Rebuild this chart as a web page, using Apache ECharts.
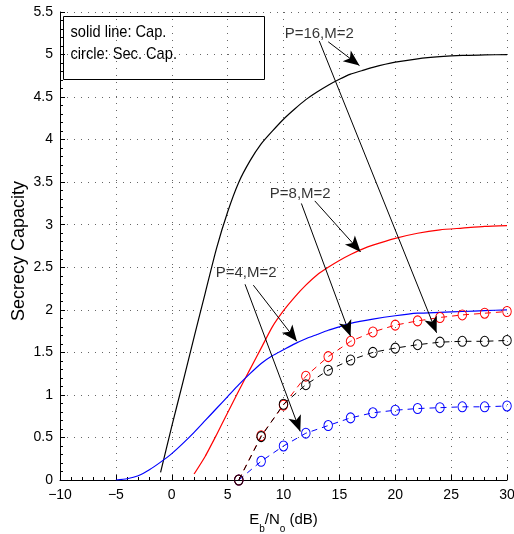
<!DOCTYPE html>
<html>
<head>
<meta charset="utf-8">
<script src="https://cdn.jsdelivr.net/npm/echarts@6/dist/echarts.min.js"></script>
<style>
  html, body { margin: 0; padding: 0; background: #fff; }
  #chart { width: 514px; height: 534px; }
</style>
</head>
<body>
<div id="chart"></div>
<script>
// Capacity curves (solid lines), x in dB
const xCapP4 = [-5, -4, -3, -2, -1, 0, 1, 2, 3, 4, 5, 6, 7, 8, 9, 10, 11, 12, 13, 14, 15, 16, 18, 20, 22, 24, 26, 28, 30];
const capP4 = [0, 0.015, 0.05, 0.12, 0.21, 0.31, 0.43, 0.56, 0.7, 0.84, 0.98, 1.12, 1.25, 1.37, 1.46, 1.53, 1.6, 1.66, 1.71, 1.76, 1.8, 1.84, 1.89, 1.93, 1.96, 1.97, 1.98, 1.99, 2.0];

const xCapP8 = [2, 3, 4, 5, 6, 7, 8, 9, 10, 11, 12, 13, 14, 15, 16, 17, 18, 20, 22, 24, 26, 28, 30];
const capP8 = [0.07, 0.28, 0.53, 0.79, 1.05, 1.3, 1.55, 1.8, 1.99, 2.15, 2.29, 2.41, 2.5, 2.58, 2.65, 2.71, 2.76, 2.84, 2.9, 2.94, 2.96, 2.98, 2.99];

const xCapP16 = [-1, 0, 1, 2, 3, 4, 5, 6, 7, 8, 9, 10, 11, 12, 13, 14, 15, 16, 17, 18, 20, 22, 24, 26, 28, 30];
const capP16 = [0.09, 0.63, 1.15, 1.68, 2.2, 2.72, 3.15, 3.5, 3.75, 3.95, 4.1, 4.24, 4.36, 4.47, 4.56, 4.64, 4.71, 4.77, 4.81, 4.85, 4.91, 4.95, 4.975, 4.99, 4.995, 5.0];

// Secrecy capacity (circles), x in dB
const xSec = [6, 8, 10, 12, 14, 16, 18, 20, 22, 24, 26, 28, 30];
const secP4 = [0, 0.22, 0.4, 0.55, 0.64, 0.73, 0.79, 0.82, 0.84, 0.85, 0.86, 0.86, 0.87];
const secP8 = [0, 0.52, 0.88, 1.22, 1.45, 1.63, 1.74, 1.82, 1.87, 1.91, 1.94, 1.96, 1.98];
const secP16 = [0, 0.51, 0.89, 1.12, 1.29, 1.41, 1.5, 1.55, 1.59, 1.62, 1.63, 1.63, 1.64];

// Curve annotations and their arrows (data coordinates)
const noteNames = ['P=16,M=2', 'P=8,M=2', 'P=4,M=2'];
const noteX = [13.2, 11.5, 6.65];
const noteY = [5.24, 3.36, 2.43];
const arrowFrom = [[14.0, 5.15], [13.2, 5.16], [12.8, 3.28], [11.6, 3.25], [7.3, 2.29], [6.56, 2.3]];
const arrowTo = [[16.8, 4.87], [23.7, 1.73], [16.9, 2.68], [16.0, 1.69], [11.2, 1.63], [11.5, 0.57]];

const FONT = '"Liberation Sans", Arial, Helvetica, sans-serif';

const pair = (xs, ys) => xs.map((x, i) => [x, ys[i]]);

function capSeries(name, xs, ys, color) {
  return {
    name, type: 'line', data: pair(xs, ys),
    symbol: 'none', smooth: 0.2,
    lineStyle: { color, width: 1.2 },
    silent: true, z: 2
  };
}

function secSeries(name, ys, color) {
  return {
    name, type: 'line', data: pair(xSec, ys),
    symbol: 'circle', symbolSize: [8.5, 10], showAllSymbol: true,
    itemStyle: { color: 'rgba(0,0,0,0)', borderColor: color, borderWidth: 1 },
    lineStyle: { color, width: 1, type: [6, 5] },
    silent: true, z: 3
  };
}

const gridLine = { show: true, lineStyle: { color: '#666', width: 1, type: [1, 6] } };

const option = {
  animation: false,
  backgroundColor: '#fff',
  grid: { left: 60, right: 7, top: 12, bottom: 54, containLabel: false, outerBoundsMode: 'none' },
  xAxis: {
    type: 'value', min: -10, max: 30, interval: 5,
    name: 'E{sub|b}/N{sub|o} (dB)', nameLocation: 'middle', nameGap: 32, nameMoveOverlap: false,
    nameTextStyle: {
      fontFamily: FONT, fontSize: 15, color: '#000',
      rich: { sub: { fontFamily: FONT, fontSize: 10, color: '#000', verticalAlign: 'bottom', padding: [0, 0, -7, 0] } }
    },
    axisLine: { show: true, onZero: false, lineStyle: { color: '#000', width: 1 } },
    axisTick: { show: true, inside: true, length: 5, lineStyle: { color: '#000' } },
    minorTick: { show: true, splitNumber: 5, length: 3, lineStyle: { color: '#000' } },
    axisLabel: {
      fontFamily: FONT, fontSize: 14, color: '#000', margin: 8,
      formatter: v => (v < 0 ? '\u2212' + Math.abs(v) : String(v))
    },
    splitLine: gridLine
  },
  yAxis: {
    type: 'value', min: 0, max: 5.5, interval: 0.5,
    name: 'Secrecy Capacity', nameLocation: 'middle', nameGap: 32, nameMoveOverlap: false,
    nameTextStyle: { fontFamily: FONT, fontSize: 18, color: '#000', padding: [0, 10, 0, 0] },
    axisLine: { show: true, onZero: false, lineStyle: { color: '#000', width: 1 } },
    axisTick: { show: true, inside: true, length: 5, lineStyle: { color: '#000' } },
    minorTick: { show: true, splitNumber: 5, length: 3, lineStyle: { color: '#000' } },
    axisLabel: { fontFamily: FONT, fontSize: 14, color: '#000', margin: 7 },
    splitLine: gridLine
  },
  graphic: [{
    type: 'group', left: 63, top: 16, z: 100,
    children: [
      { type: 'rect', shape: { x: 0, y: 0, width: 201, height: 63 },
        style: { fill: '#fff', stroke: '#000', lineWidth: 1 } },
      { type: 'text', x: 7, y: 7, scaleX: 0.86,
        style: { text: 'solid line: Cap.', font: '17px ' + FONT, fill: '#000' } },
      { type: 'text', x: 7, y: 29, scaleX: 0.86,
        style: { text: 'circle: Sec. Cap.', font: '17px ' + FONT, fill: '#000' } }
    ]
  }],
  series: [
    capSeries('Cap. P=16', xCapP16, capP16, '#000'),
    capSeries('Cap. P=8', xCapP8, capP8, '#ff0000'),
    capSeries('Cap. P=4', xCapP4, capP4, '#0000ff'),
    secSeries('Sec. Cap. P=4', secP4, '#0000ff'),
    secSeries('Sec. Cap. P=8', secP8, '#ff0000'),
    secSeries('Sec. Cap. P=16', secP16, '#000'),
    {
      name: 'notes', type: 'scatter', silent: true, z: 5,
      data: noteNames.map((n, i) => ({ name: n, value: [noteX[i], noteY[i]] })),
      symbol: 'circle', symbolSize: 1,
      itemStyle: { color: 'rgba(0,0,0,0)' },
      label: {
        show: true, position: 'inside', formatter: '{b}',
        fontFamily: FONT, fontSize: 15, color: '#000'
      },
      markLine: {
        silent: true, animation: false,
        symbol: ['none', 'arrow'], symbolSize: [10, 16],
        lineStyle: { color: '#000', width: 1, type: 'solid' },
        label: { show: false },
        emphasis: { disabled: true },
        data: arrowFrom.map((f, i) => [{ coord: f }, { coord: arrowTo[i] }])
      }
    }
  ]
};

const chart = echarts.init(document.getElementById('chart'));
chart.setOption(option);
</script>
</body>
</html>
